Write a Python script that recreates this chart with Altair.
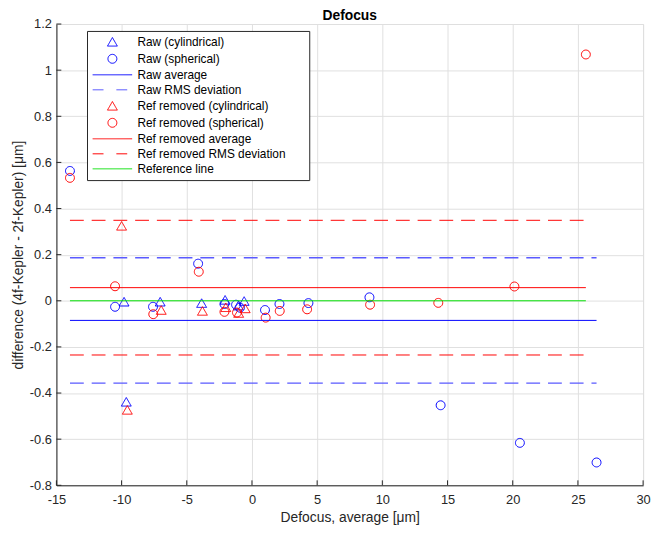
import altair as alt
import pandas as pd

# ---------------- data ----------------
raw_cyl_x = [-9.81, -7.04, -3.86, -2.06, -1.05, -0.60, -9.64]
raw_cyl_y = [-0.004, -0.004, -0.010, 0.004, -0.021, -0.001, -0.438]

raw_sph_x = [-13.96, -10.50, -7.59, -4.13, -2.11, -1.22, -0.92, 1.00, 2.11, 4.33, 9.01, 14.47, 20.55, 26.43]
raw_sph_y = [0.563, -0.026, -0.026, 0.161, -0.014, -0.017, -0.030, -0.040, -0.014, -0.010, 0.015, -0.453, -0.616, -0.701]

ref_cyl_x = [-10.00, -6.96, -3.80, -2.01, -1.02, -0.52, -9.56]
ref_cyl_y = [0.325, -0.040, -0.044, -0.028, -0.053, -0.033, -0.473]

ref_sph_x = [-13.96, -10.50, -7.57, -4.08, -2.11, -1.15, 1.05, 2.13, 4.23, 9.06, 14.29, 20.13, 25.61]
ref_sph_y = [0.533, 0.063, -0.058, 0.126, -0.048, -0.051, -0.073, -0.044, -0.037, -0.017, -0.009, 0.062, 1.068]

raw_average = -0.085
raw_rms = 0.272
ref_average = 0.057
ref_rms = 0.292
reference_level = 0.0

labels = [
    "Raw (cylindrical)", "Raw (spherical)", "Raw average", "Raw RMS deviation",
    "Ref removed (cylindrical)", "Ref removed (spherical)", "Ref removed average",
    "Ref removed RMS deviation", "Reference line",
]
x_ticks = [-15, -10, -5, 0, 5, 10, 15, 20, 25, 30]
y_ticks = [-0.8, -0.6, -0.4, -0.2, 0, 0.2, 0.4, 0.6, 0.8, 1, 1.2]

# ---------------- styles ----------------
BLUE, RED, GREEN = "#0000ff", "#ff0000", "#00e000"
BLUE_DASH = "#5a5aff"
AX = "#262626"
GRID = "#dfdfdf"
FONT = "Liberation Sans"
TRI = "triangle-up"
CIRC = "M0.9,0A0.9,0.9,0,1,1,-0.9,0A0.9,0.9,0,1,1,0.9,0Z"
LINE = "M-4,0L4,0"
colors = [BLUE, BLUE, BLUE, BLUE_DASH, RED, RED, RED, RED, GREEN]
shapes = [TRI, CIRC, LINE, LINE, TRI, CIRC, LINE, LINE, LINE]
SOLID = [1, 0]
LEGDASH = [11, 13]
dashes = [SOLID, SOLID, SOLID, LEGDASH, SOLID, SOLID, SOLID, LEGDASH, SOLID]
PLOTDASH = [14, 8]

W, H = 594, 467

# ---------------- tables ----------------
frames = []
for name, xs, ys in [
    (labels[0], raw_cyl_x, raw_cyl_y),
    (labels[1], raw_sph_x, raw_sph_y),
    (labels[4], ref_cyl_x, ref_cyl_y),
    (labels[5], ref_sph_x, ref_sph_y),
]:
    frames.append(pd.DataFrame({"x": xs, "y": ys, "series": name}))
pts = pd.concat(frames, ignore_index=True)

x_start = min(raw_cyl_x + raw_sph_x + ref_cyl_x + ref_sph_x)
raw_end = max(raw_cyl_x + raw_sph_x)
ref_end = max(ref_cyl_x + ref_sph_x)

xscale = alt.Scale(domain=[-15, 30], nice=False, zero=False)
yscale = alt.Scale(domain=[-0.8, 1.2], nice=False, zero=False)

xaxis = alt.Axis(
    values=x_ticks, title="Defocus, average [μm]", grid=True, gridColor=GRID,
    domainColor=AX, ticks=False, labelFontSize=13, labelColor=AX, labelPadding=8,
    labelFlush=False, labelOverlap=False, labelExpr="'' + datum.value",
    titleFontSize=14, titleFontWeight="normal", titleColor=AX, titlePadding=5,
    labelFont=FONT, titleFont=FONT,
)
yaxis = alt.Axis(
    values=y_ticks, title="difference (4f-Kepler - 2f-Kepler) [μm]", grid=True, gridColor=GRID,
    domainColor=AX, ticks=False, labelFontSize=13, labelColor=AX, labelPadding=5,
    labelOverlap=False, labelExpr="'' + datum.value",
    titleFontSize=14, titleFontWeight="normal", titleColor=AX, titlePadding=4,
    labelFont=FONT, titleFont=FONT,
)

leg = dict(
    title=None, orient="none", legendX=31, legendY=7, padding=5,
    labelFont=FONT, labelFontSize=12, labelColor="#000000", labelLimit=400,
    labelExpr="datum.label + '\u2800\u2800'",
    symbolOffset=14.7, labelOffset=19.3, rowPadding=3.2, symbolSize=100,
    symbolStrokeWidth=1, strokeColor=AX, fillColor="white",
)

points = alt.Chart(pts).mark_point(filled=False, size=100, strokeWidth=1, opacity=1).encode(
    x=alt.X("x:Q", scale=xscale, axis=xaxis),
    y=alt.Y("y:Q", scale=yscale, axis=yaxis),
    color=alt.Color("series:N", scale=alt.Scale(domain=labels, range=colors), legend=alt.Legend(**leg)),
    shape=alt.Shape("series:N", scale=alt.Scale(domain=labels, range=shapes), legend=alt.Legend(**leg)),
    strokeDash=alt.StrokeDash("series:N", scale=alt.Scale(domain=labels, range=dashes), legend=alt.Legend(**leg)),
)


def hline(levels, x_end, color, dash=None, width=1):
    df = pd.DataFrame({"x": [x_start] * len(levels), "x2": [x_end] * len(levels), "y": levels})
    kw = dict(color=color, strokeWidth=width)
    if dash:
        kw["strokeDash"] = dash
    return alt.Chart(df).mark_rule(**kw).encode(
        x=alt.X("x:Q", scale=xscale), x2="x2:Q", y=alt.Y("y:Q", scale=yscale)
    )


raw_avg_l = hline([raw_average], raw_end, BLUE)
raw_rms_l = hline([raw_average + raw_rms, raw_average - raw_rms], raw_end, BLUE_DASH, PLOTDASH, 1.5)
ref_avg_l = hline([ref_average], ref_end, RED)
ref_rms_l = hline([ref_average + ref_rms, ref_average - ref_rms], ref_end, RED, PLOTDASH)
ref_line = hline([reference_level], ref_end, GREEN)

yt = alt.Chart(pd.DataFrame({"v": y_ticks})).mark_rule(color=AX, strokeWidth=1).encode(
    y=alt.Y("v:Q", scale=yscale), x=alt.value(0), x2=alt.value(5)
)
xt = alt.Chart(pd.DataFrame({"v": x_ticks})).mark_rule(color=AX, strokeWidth=1).encode(
    x=alt.X("v:Q", scale=xscale), y=alt.value(H), y2=alt.value(H - 5)
)

chart = alt.layer(
    points, raw_avg_l, raw_rms_l, ref_avg_l, ref_rms_l, ref_line, yt, xt
).properties(
    width=W, height=H,
    title=alt.TitleParams("Defocus", fontSize=14, font=FONT, fontWeight="bold",
                          color="#000000", offset=2, dy=7, anchor="middle"),
    autosize=alt.AutoSizeParams(type="none"),
    padding={"left": 49, "top": 13, "right": 8, "bottom": 40},
    background="white",
).configure_view(strokeWidth=0).configure(font=FONT)

chart.save("out.html", embed_options={"renderer": "svg", "actions": False})
